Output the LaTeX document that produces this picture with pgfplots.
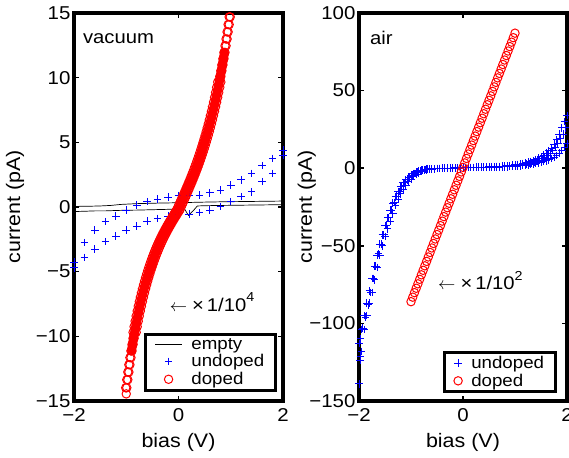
\documentclass[border=0pt]{standalone}
\usepackage{fontspec}
\setmainfont{Liberation Sans}[FakeStretch=1.1]
\usepackage{pgfplots}
\usepackage{pgfplotstable}
\pgfplotsset{compat=1.18}

\newcommand\tickfont{\fontsize{18.6}{20}\selectfont}
\newcommand\labfont{\fontsize{19.5}{21}\selectfont}
\newcommand\legfont{\fontsize{17}{18}\selectfont}
\newcommand\txtfont{\fontsize{18.4}{20}\selectfont}

% undoped, vacuum: two sweeps
\pgfplotstableread{
x y
-2.0 -4.25
-1.8 -2.75
-1.6 -1.8
-1.4 -1.13
-1.2 -0.7
-1.0 -0.23
-0.8 0.15
-0.6 0.41
-0.4 0.6
-0.2 0.75
0.0 0.9
0.2 0.92
0.4 0.93
0.6 1.1
0.8 1.3
1.0 1.7
1.2 2.1
1.4 2.6
1.6 3.2
1.8 3.76
2.0 4.4
-2.0 -4.7
-1.8 -3.9
-1.6 -3.25
-1.4 -2.68
-1.2 -2.24
-1.0 -1.78
-0.8 -1.47
-0.6 -1.08
-0.4 -0.88
-0.2 -0.7
0.0 -0.6
0.2 -0.54
0.4 -0.44
0.6 -0.23
0.8 0.03
1.0 0.41
1.2 0.8
1.4 1.18
1.6 1.96
1.8 2.6
2.0 4.0
}\undopedvac

% doped, vacuum: dense core of the sweeps (ordered)
\pgfplotstableread{
x y
-0.90 -11.129
-0.86 -10.151
-0.82 -9.253
-0.78 -8.428
-0.74 -7.670
-0.70 -6.972
-0.66 -6.329
-0.62 -5.736
-0.58 -5.188
-0.54 -4.682
-0.50 -4.212
-0.46 -3.775
-0.42 -3.368
-0.38 -2.988
-0.34 -2.632
-0.30 -2.296
-0.26 -1.978
-0.22 -1.676
-0.18 -1.387
-0.14 -1.109
-0.10 -0.840
-0.06 -0.577
-0.02 -0.319
0.02 0
0.06 0.362
0.10 0.725
0.14 1.093
0.18 1.468
0.22 1.852
0.26 2.247
0.30 2.655
0.34 3.080
0.38 3.524
0.42 3.989
0.46 4.478
0.50 4.995
0.54 5.542
0.58 6.123
0.62 6.740
0.66 7.399
0.70 8.104
0.74 8.857
0.78 9.664
0.82 10.530
0.86 11.461
0.88 11.952
}\dopedvaccore

% doped, vacuum: sweep A
\pgfplotstableread{
x y
-0.01 0
0.01 0.181
0.03 0.362
0.05 0.543
0.07 0.725
0.09 0.909
0.11 1.093
0.13 1.280
0.15 1.468
0.17 1.659
0.19 1.852
0.21 2.048
0.23 2.247
0.25 2.449
0.27 2.655
0.29 2.866
0.31 3.080
0.33 3.300
0.35 3.524
0.37 3.754
0.39 3.989
0.41 4.230
0.43 4.478
0.45 4.733
0.47 4.995
0.49 5.264
0.51 5.542
0.53 5.828
0.55 6.123
0.57 6.427
0.59 6.740
0.61 7.065
0.63 7.399
0.65 7.746
0.67 8.104
0.69 8.474
0.71 8.857
0.73 9.254
0.75 9.664
0.79 10.090
0.81 10.530
0.83 10.987
0.85 11.461
0.87 11.952
0.89 12.461
0.91 12.989
0.93 13.536
0.95 14.105
0.97 14.695
-0.03 -0.191
-0.05 -0.319
-0.07 -0.448
-0.09 -0.577
-0.11 -0.708
-0.13 -0.840
-0.15 -0.973
-0.17 -1.109
-0.19 -1.247
-0.21 -1.387
-0.23 -1.530
-0.25 -1.676
-0.27 -1.825
-0.29 -1.978
-0.31 -2.135
-0.33 -2.296
-0.35 -2.461
-0.37 -2.632
-0.39 -2.807
-0.41 -2.988
-0.43 -3.175
-0.45 -3.368
-0.47 -3.568
-0.49 -3.775
-0.51 -3.990
-0.53 -4.212
-0.55 -4.442
-0.57 -4.682
-0.59 -4.930
-0.61 -5.188
-0.63 -5.457
-0.65 -5.736
-0.67 -6.027
-0.69 -6.329
-0.71 -6.644
-0.73 -6.972
-0.75 -7.314
-0.77 -7.670
-0.79 -8.041
-0.81 -8.428
-0.83 -8.832
-0.85 -9.253
-0.87 -9.692
-0.87 -10.151
-0.89 -10.629
-0.91 -11.129
-0.93 -11.650
-0.95 -12.195
-0.97 -12.763
-0.99 -13.357
-1.01 -13.977
}\dopedvacA

% doped, vacuum: sweep B
\pgfplotstableread{
x y
0.05 0
0.07 0.181
0.09 0.362
0.11 0.543
0.13 0.725
0.15 0.909
0.17 1.093
0.19 1.280
0.21 1.468
0.23 1.659
0.25 1.852
0.27 2.048
0.29 2.247
0.31 2.449
0.33 2.655
0.35 2.866
0.37 3.080
0.39 3.300
0.41 3.524
0.43 3.754
0.45 3.989
0.47 4.230
0.49 4.478
0.51 4.733
0.53 4.995
0.55 5.264
0.57 5.542
0.59 5.828
0.61 6.123
0.63 6.427
0.65 6.740
0.67 7.065
0.69 7.399
0.71 7.746
0.73 8.104
0.75 8.474
0.77 8.857
0.79 9.254
0.81 9.664
0.81 10.090
0.83 10.530
0.85 10.987
0.87 11.461
0.89 11.952
0.91 12.461
0.93 12.989
0.95 13.536
0.97 14.105
0.99 14.695
0.03 -0.191
0.01 -0.319
-0.01 -0.448
-0.03 -0.577
-0.05 -0.708
-0.07 -0.840
-0.09 -0.973
-0.11 -1.109
-0.13 -1.247
-0.15 -1.387
-0.17 -1.530
-0.19 -1.676
-0.21 -1.825
-0.23 -1.978
-0.25 -2.135
-0.27 -2.296
-0.29 -2.461
-0.31 -2.632
-0.33 -2.807
-0.35 -2.988
-0.37 -3.175
-0.39 -3.368
-0.41 -3.568
-0.43 -3.775
-0.45 -3.990
-0.47 -4.212
-0.49 -4.442
-0.51 -4.682
-0.53 -4.930
-0.55 -5.188
-0.57 -5.457
-0.59 -5.736
-0.61 -6.027
-0.63 -6.329
-0.65 -6.644
-0.67 -6.972
-0.69 -7.314
-0.71 -7.670
-0.73 -8.041
-0.75 -8.428
-0.77 -8.832
-0.79 -9.253
-0.81 -9.692
-0.85 -10.151
-0.87 -10.629
-0.89 -11.129
-0.91 -11.650
-0.93 -12.195
-0.95 -12.763
-0.97 -13.357
-0.99 -13.977
-1.00 -14.45
}\dopedvacB

% undoped, air: sweeps
\pgfplotstableread{
x y
-2.00 -139
-1.98 -124
-1.97 -110
-1.95 -118
-1.90 -104
-1.85 -95
-1.80 -87
-1.75 -80
-1.70 -72
-1.65 -64
-1.60 -56
-1.55 -50
-1.50 -44
-1.45 -39
-1.40 -34
-1.35 -29
-1.30 -24
-1.25 -20
-1.20 -16.5
-1.15 -13.5
-1.10 -11
-1.05 -8.8
-1.00 -7
-0.95 -5.4
-0.90 -4.1
-0.85 -3.0
-0.80 -2.2
-0.75 -1.6
-0.70 -1.1
-0.65 -0.8
-0.60 -0.6
-0.55 -0.4
-0.50 -0.3
-0.45 -0.2
-0.40 -0.1
-0.35 0
-0.30 0.05
-0.25 0.1
-0.20 0.15
-0.15 0.2
-0.10 0.25
-0.05 0.3
0.00 0.35
0.05 0.4
0.10 0.45
0.15 0.5
0.20 0.55
0.25 0.6
0.30 0.65
0.35 0.7
0.40 0.75
0.45 0.8
0.50 0.85
0.55 0.9
0.60 1.0
0.65 1.1
0.70 1.2
0.75 1.3
0.80 1.4
0.85 1.5
0.90 1.7
0.95 1.9
1.00 2.1
1.05 2.4
1.10 2.7
1.15 3.0
1.20 3.4
1.25 3.8
1.30 4.3
1.35 4.9
1.40 5.6
1.45 6.4
1.50 7.3
1.55 8.4
1.60 9.7
1.65 11.2
1.70 13
1.75 15.5
1.80 18.5
1.85 22
1.90 26
1.95 30
2.00 34
-2.00 -113
-1.95 -104
-1.90 -95
-1.85 -87
-1.80 -79
-1.75 -71
-1.70 -63
-1.65 -56
-1.60 -49
-1.55 -43
-1.50 -37
-1.45 -32
-1.40 -27
-1.35 -22.5
-1.30 -18.5
-1.25 -15
-1.20 -12
-1.15 -9.5
-1.10 -7.5
-1.05 -5.8
-1.00 -4.4
-0.95 -3.3
-0.90 -2.4
-0.85 -1.7
-0.80 -1.2
-0.75 -0.9
-0.70 -0.7
-0.65 -0.5
-0.60 -0.4
-0.55 -0.3
-0.50 -0.2
-0.45 -0.1
-0.40 -0.05
-0.35 0
-0.30 0.02
-0.25 0.05
-0.20 0.1
-0.15 0.12
-0.10 0.15
-0.05 0.2
0.00 0.3
0.05 0.32
0.10 0.35
0.15 0.38
0.20 0.4
0.25 0.45
0.30 0.5
0.35 0.52
0.40 0.55
0.45 0.58
0.50 0.6
0.55 0.65
0.60 0.7
0.65 0.75
0.70 0.8
0.75 0.85
0.80 0.9
0.85 0.95
0.90 1.0
0.95 1.1
1.00 1.2
1.05 1.35
1.10 1.5
1.15 1.7
1.20 1.9
1.25 2.1
1.30 2.4
1.35 2.7
1.40 3.0
1.45 3.4
1.50 3.8
1.55 4.3
1.60 4.8
1.65 5.4
1.70 6.2
1.75 7.1
1.80 8.2
1.85 9.6
1.90 11.3
1.95 13.5
2.00 16
-1.975 -121
-1.925 -103
-1.875 -96
-1.825 -88
-1.775 -80
-1.725 -71
-1.675 -63
-1.625 -55
-1.575 -49
-1.525 -43
-1.475 -37
-1.425 -32
-1.375 -27
-1.325 -22
-1.275 -18
-1.225 -15
-1.175 -12
-1.125 -9.5
-1.075 -7.5
-1.025 -5.8
-0.975 -4.5
-0.925 -3.4
-0.875 -2.5
-0.825 -1.8
-0.775 -1.3
-0.725 -0.9
-0.675 -0.6
1.225 2.6
1.275 3.1
1.325 3.5
1.375 4.0
1.425 4.6
1.475 5.3
1.525 6.2
1.575 7.2
1.625 8.4
1.675 9.8
1.725 11.5
1.775 13.5
1.825 16
1.875 19
1.925 22
1.975 26
}\undopedair

% doped, air
\pgfplotstableread{
x y
-1.0000 -86.0
-0.9667 -83.1
-0.9333 -80.2
-0.9000 -77.35
-0.8667 -74.5
-0.8333 -71.6
-0.8000 -68.7
-0.7667 -65.8
-0.7333 -62.9
-0.7000 -60.05
-0.6667 -57.2
-0.6333 -54.3
-0.6000 -51.4
-0.5667 -48.5
-0.5333 -45.6
-0.5000 -42.75
-0.4667 -39.9
-0.4333 -37.0
-0.4000 -34.1
-0.3667 -31.2
-0.3333 -28.3
-0.3000 -25.45
-0.2667 -22.6
-0.2333 -19.7
-0.2000 -16.8
-0.1667 -13.9
-0.1333 -11.0
-0.1000 -8.15
-0.0667 -5.3
-0.0333 -2.4
0.0000 0.5
0.0333 3.4
0.0667 6.3
0.1000 9.15
0.1333 12.0
0.1667 14.9
0.2000 17.8
0.2333 20.7
0.2667 23.6
0.3000 26.45
0.3333 29.3
0.3667 32.2
0.4000 35.1
0.4333 38.0
0.4667 40.9
0.5000 43.75
0.5333 46.6
0.5667 49.5
0.6000 52.4
0.6333 55.3
0.6667 58.2
0.7000 61.05
0.7333 63.9
0.7667 66.8
0.8000 69.7
0.8333 72.6
0.8667 75.5
0.9000 78.35
0.9333 81.2
0.9667 84.1
1.0000 87.0
}\dopedair

\pgfplotsset{
  common/.style={
    scale only axis,
    height=388pt,
    xmin=-2, xmax=2,
    xtick={-2,0,2}, xticklabels={−2,0,2},
    axis line style={line width=3.2pt},
    tick style={black, line width=1.6pt},
    major tick length=5pt,
    tick align=inside,
    minor tick num=0,
    ticklabel style={font=\tickfont},
    xticklabel style={yshift=-4pt},
    label style={font=\labfont},
    xlabel={bias (V)},
    ylabel={current (pA)},
    xlabel style={at={(axis description cs:0.5,-0.106)}, anchor=center},
    legend cell align=left,
    legend style={draw=black, line width=3pt, font=\legfont,
      inner xsep=9pt, inner ysep=2pt, column sep=7pt,
      nodes={inner sep=2pt}, row sep=0pt},
    legend image code/.code={\draw[mark repeat=2,mark phase=2,##1] plot coordinates {(0pt,0pt) (13.5pt,0pt) (27pt,0pt)};},
  },
  plusstyle/.style={only marks, mark=+, mark size=3.8pt, color=blue, line width=0.9pt},
  circstyle/.style={only marks, mark=o, mark size=4.2pt, color=red, line width=1pt},
}

\begin{document}
\begin{tikzpicture}
\begin{axis}[common, at={(74pt,56pt)}, anchor=south west, width=209pt,
  ymin=-15, ymax=15, ytick={-15,-10,-5,0,5,10,15},
  yticklabels={−15,−10,−5,0,5,10,15},
  ylabel style={at={(axis description cs:-0.282,0.5)}, anchor=center},
  legend style={at={(0.970,0.024)}, anchor=south east}]
\addplot[black, line width=0.7pt] coordinates {
(-2,-0.35) (-1.8,-0.33) (-1.6,-0.3) (-1.4,-0.3) (-1.2,-0.27) (-1.0,-0.25)
(-0.8,-0.24) (-0.6,-0.22) (-0.4,-0.2) (-0.2,-0.18) (0.0,-0.16) (0.12,-0.18)
(0.19,-0.65) (0.28,-0.3) (0.36,0.08) (0.5,0.1) (0.8,0.12) (1.2,0.14)
(1.6,0.16) (2.0,0.18) (2.0,0.46) (1.6,0.44) (1.2,0.42) (0.8,0.4) (0.4,0.37)
(0.0,0.33) (-0.4,0.3) (-0.8,0.26) (-1.1,0.2) (-1.3,0.12) (-1.5,0.08)
(-1.7,0.06) (-1.9,0.05) (-2.0,-0.05)};
\addlegendentry{empty}
\addplot[plusstyle] table {\undopedvac};
\addlegendentry{undoped}
\addplot[red, line width=9pt, line cap=round, line join=round, forget plot] table {\dopedvaccore};
\addplot[circstyle] table {\dopedvacA};
\addlegendentry{doped}
\addplot[circstyle, forget plot] table {\dopedvacB};
\node[anchor=west, font=\txtfont, inner sep=0pt] at (axis cs:-1.83,13.0) {vacuum};
\node[anchor=west, font=\txtfont, inner sep=0pt] at (axis cs:-0.17,-7.35) {$\leftarrow$\hspace{5pt}×\hspace{3pt}1/10\raisebox{0.5em}{\fontsize{13}{13}\selectfont 4}};
\end{axis}

\begin{axis}[common, at={(359pt,56pt)}, anchor=south west, width=208pt,
  ymin=-150, ymax=100, ytick={-150,-100,-50,0,50,100},
  yticklabels={−150,−100,−50,0,50,100},
  ylabel style={at={(axis description cs:-0.251,0.5)}, anchor=center},
  legend style={at={(0.950,0.020)}, anchor=south east}]
\addplot[plusstyle] table {\undopedair};
\addlegendentry{undoped}
\addplot[circstyle] table {\dopedair};
\addlegendentry{doped}
\node[anchor=west, font=\txtfont, inner sep=0pt] at (axis cs:-1.79,83.8) {air};
\node[anchor=west, font=\txtfont, inner sep=0pt] at (axis cs:-0.48,-72.2) {$\leftarrow$\hspace{5pt}×\hspace{3pt}1/10\raisebox{0.5em}{\fontsize{13}{13}\selectfont 2}};
\end{axis}
\pgfresetboundingbox
\useasboundingbox (0pt,0pt) rectangle (569pt,457pt);
\end{tikzpicture}
\end{document}
